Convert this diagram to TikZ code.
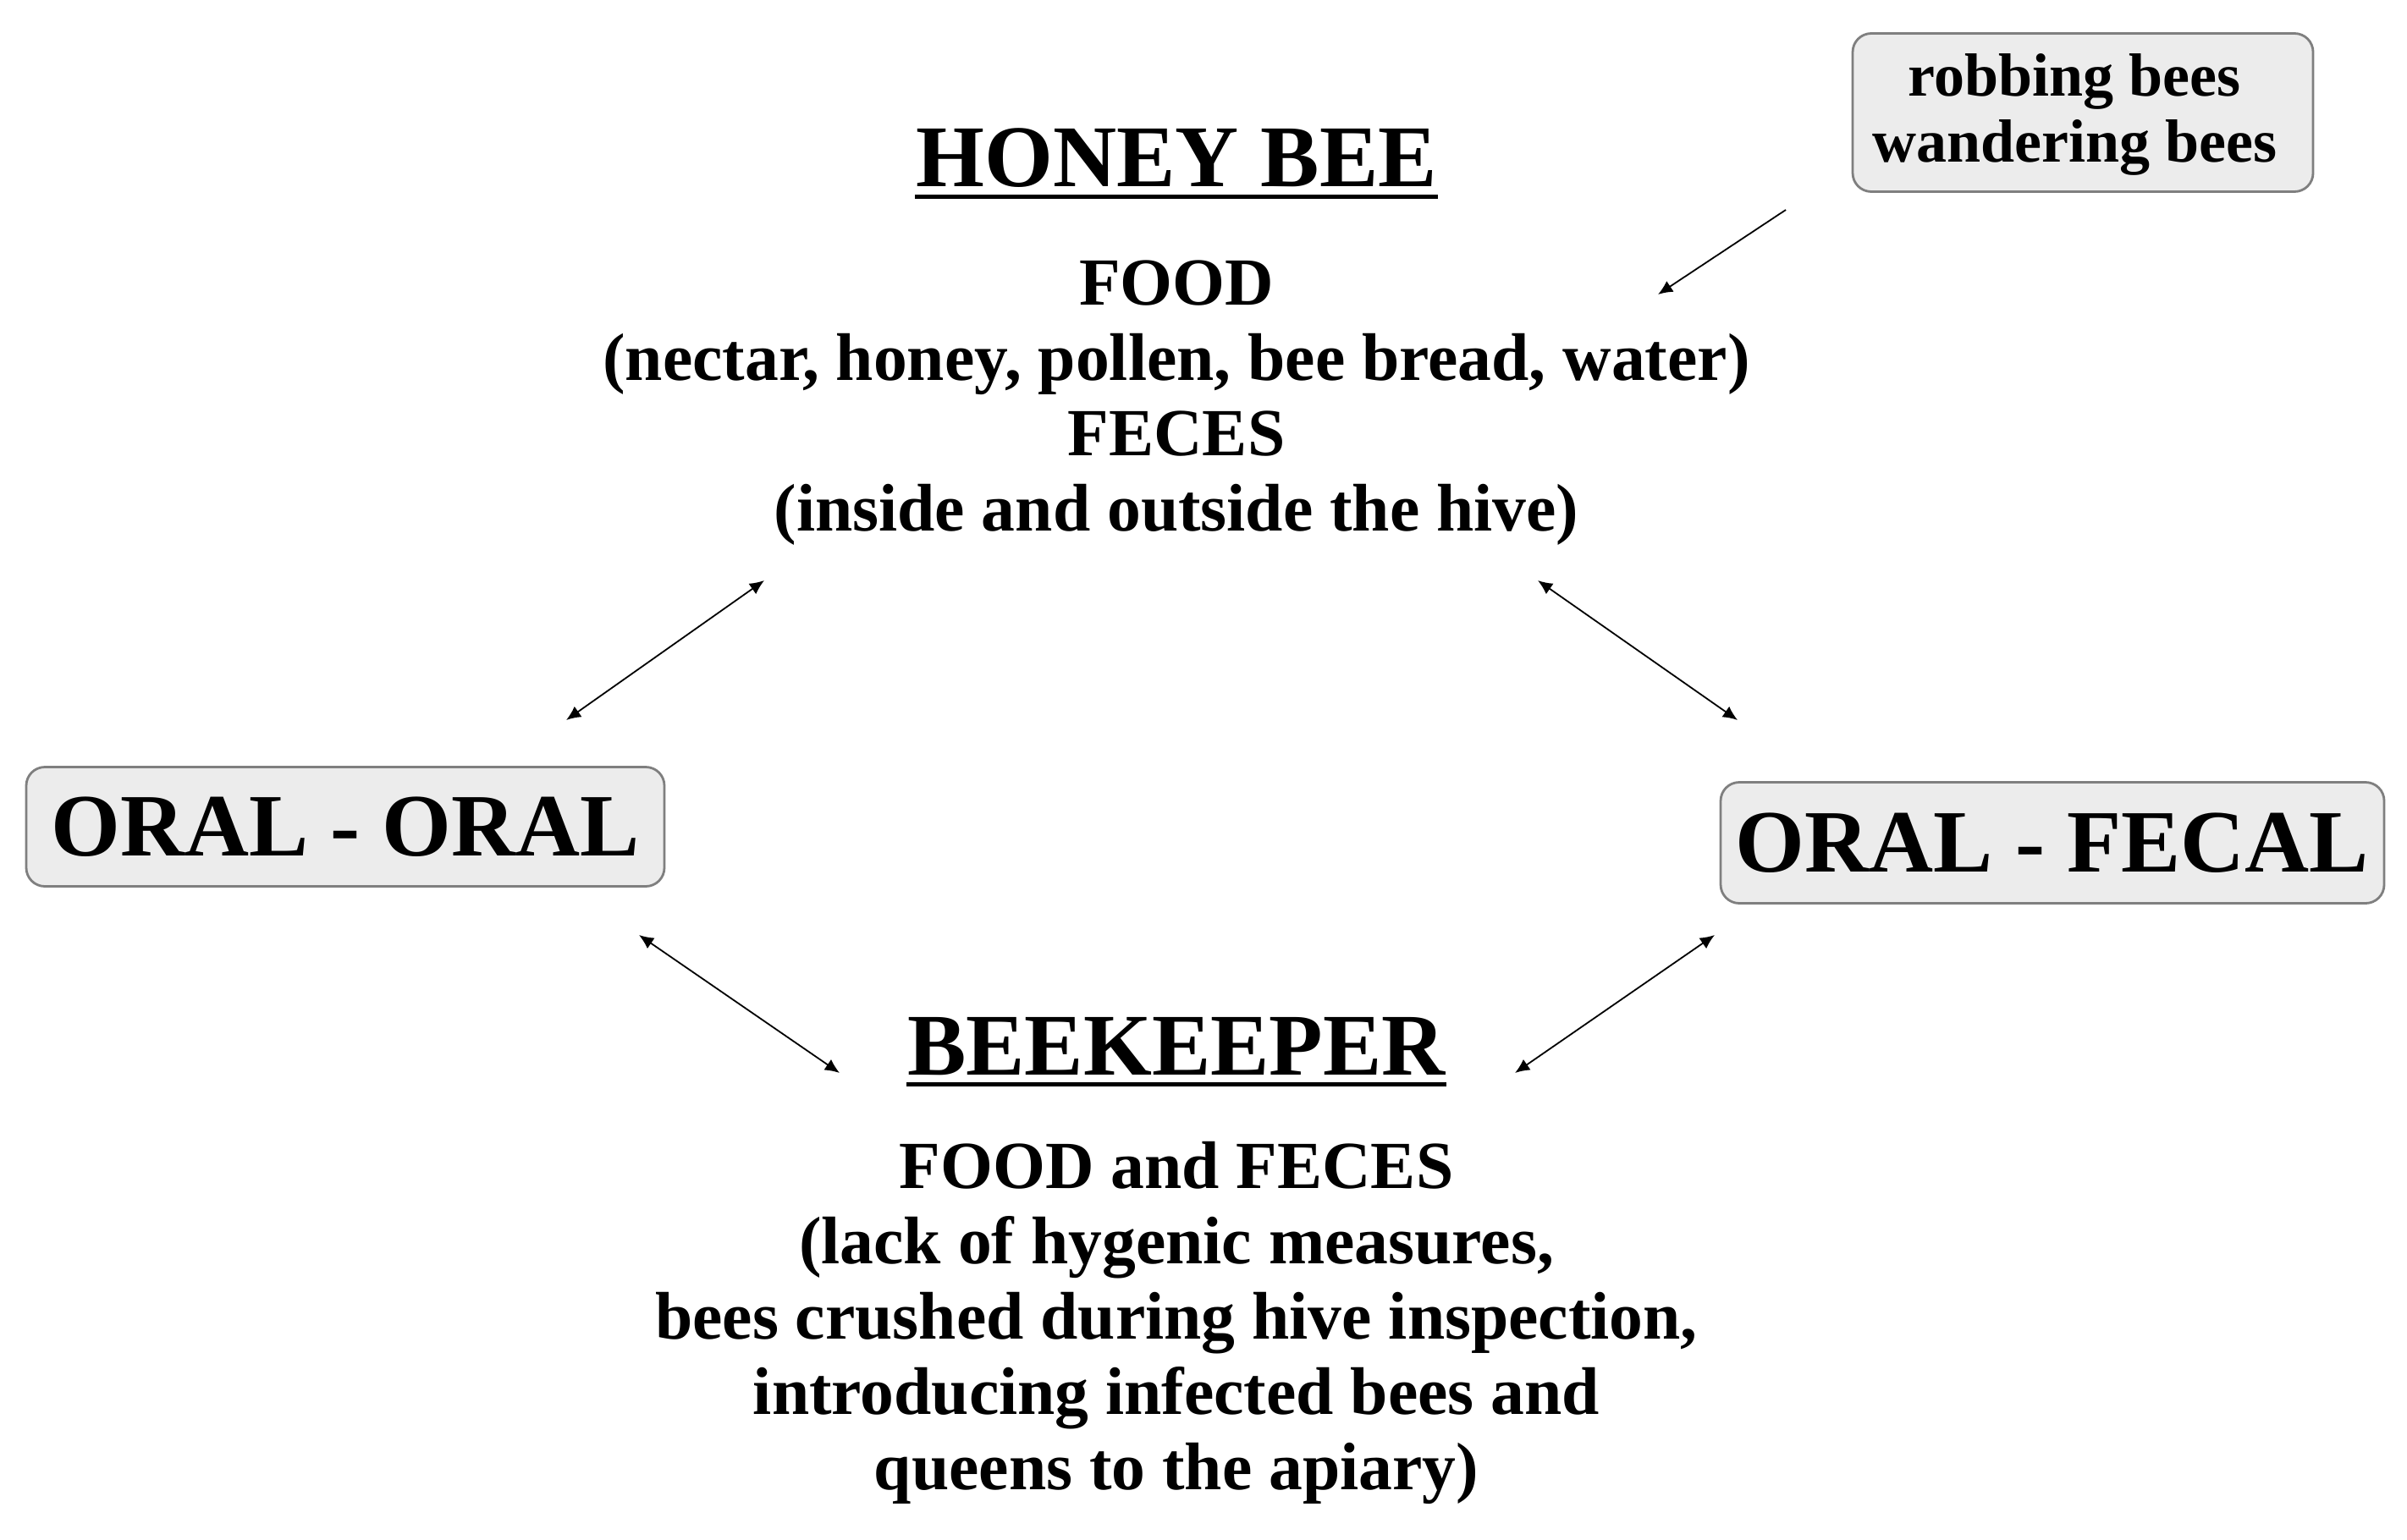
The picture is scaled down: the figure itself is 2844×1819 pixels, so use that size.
\documentclass[tikz,border=0pt]{standalone}
\usepackage{fontspec}
\setmainfont{Liberation Serif}
\usetikzlibrary{arrows.meta}
\definecolor{boxfill}{HTML}{ECECEC}
\definecolor{boxline}{HTML}{7F7F7F}
\tikzset{
  lbl/.style={inner sep=0pt, font=\bfseries\fontsize{19.9}{22.25}\selectfont, align=center},
  headline/.style={inner sep=0pt, font=\bfseries\fontsize{26}{30}\selectfont, anchor=base},
  uline/.style={line width=1.3pt},
  gbox/.style={draw=boxline, fill=boxfill, rounded corners=5.5pt, line width=0.7pt, inner sep=0pt},
  bigtxt/.style={font=\bfseries\fontsize{26.3}{30}\selectfont, text height=17.3pt, text depth=0pt},
  conn/.style={line width=0.45pt, {Latex[length=4.3pt,width=3.8pt]}-{Latex[length=4.3pt,width=3.8pt]}},
  oneway/.style={line width=0.45pt, -{Latex[length=4.3pt,width=3.8pt]}},
}
\begin{document}
\begin{tikzpicture}[x=0.25pt,y=-0.25pt]
\useasboundingbox (0,0) rectangle (2844,1819);

% Honey bee block
\node[headline] (hb) at (1390,221) {HONEY BEE};
\draw[uline] ([yshift=-2.8pt]hb.base west) -- ([yshift=-2.8pt]hb.base east);
\node[lbl, anchor=north] (hbtext) at (1390,307)
  {FOOD\\(nectar, honey, pollen, bee bread, water)\\FECES\\(inside and outside the hive)};

% Beekeeper block
\node[headline] (bk) at (1390,1270) {BEEKEEPER};
\draw[uline] ([yshift=-2.8pt]bk.base west) -- ([yshift=-2.8pt]bk.base east);
\node[lbl, anchor=north] (bktext) at (1390,1348)
  {FOOD and FECES\\(lack of hygenic measures,\\bees crushed during hive inspection,\\introducing infected bees and\\queens to the apiary)};

% Boxes
\node[gbox, bigtxt, minimum width=188.5pt, minimum height=35.25pt] (oo) at (408,977) {ORAL - ORAL};
\node[gbox, bigtxt, minimum width=196pt, minimum height=35.75pt] (of) at (2425,996) {ORAL - FECAL};
\node[gbox, align=center, font=\bfseries\fontsize{18}{19.5}\selectfont, minimum width=136pt, minimum height=46.75pt, text depth=2.5pt] (rb) at (2461,133) {robbing bees\hspace*{5pt}\\wandering bees\hspace*{5pt}};

% Connector ends
\coordinate (rbS) at (2110,248);
\coordinate (hbNE) at (1959,348);
\coordinate (hbSW) at (903,686);
\coordinate (ooN) at (669,851);
\coordinate (hbSE) at (1817,686);
\coordinate (ofN) at (2053,851);
\coordinate (ooS) at (755,1105);
\coordinate (bkW) at (992,1268);
\coordinate (ofS) at (2026,1105);
\coordinate (bkE) at (1790,1268);

\draw[oneway] (rbS) -- (hbNE);
\draw[conn] (hbSW) -- (ooN);
\draw[conn] (hbSE) -- (ofN);
\draw[conn] (ooS) -- (bkW);
\draw[conn] (ofS) -- (bkE);
\end{tikzpicture}
\end{document}
